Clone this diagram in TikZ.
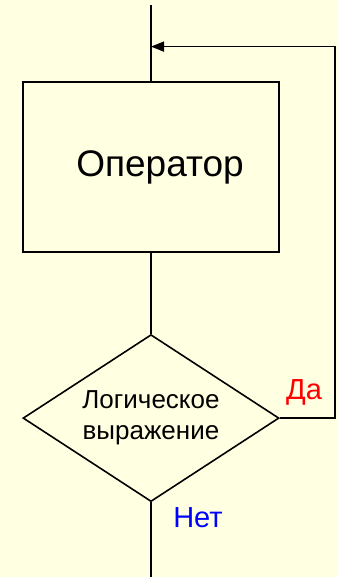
\documentclass[tikz,border=0pt]{standalone}
\usepackage{fontspec}
\setmainfont{Liberation Sans}
\usetikzlibrary{positioning,arrows.meta,shapes.geometric}
\definecolor{bgyellow}{HTML}{FFFFE1}

\begin{document}
\begin{tikzpicture}[
  line width=0.8pt,
  node distance=40.5pt,
  every node/.style={align=center},
  opbox/.style={draw, minimum width=128pt, minimum height=85pt, inner sep=0pt,
                font=\fontsize{18.5pt}{21pt}\selectfont},
  condbox/.style={draw, diamond, aspect=1.53, minimum width=128pt, minimum height=83.5pt,
                  inner sep=0pt, font=\fontsize{13pt}{15.5pt}\selectfont},
  arrow/.style={-{Triangle[length=6.5pt, width=5pt]}},
  answer/.style={font=\fontsize{14.5pt}{16pt}\selectfont, inner sep=0pt},
]
% background and page size
\fill[bgyellow] (0pt,0pt) rectangle (168.5pt,-288.5pt);
\useasboundingbox (0pt,0pt) rectangle (168.5pt,-288.5pt);

% ===== loop body =====
\coordinate (in) at (75.5pt,-2.5pt);
\node[opbox] (op) at (75.5pt,-83.5pt) {\raisebox{2pt}{\hspace{9pt}Оператор}};
\node[condbox, below=of op] (cond) {Логическое\\выражение};
\coordinate (out) at (75.5pt,-288.5pt);

\draw (in) -- (op.north);
\draw (op.south) -- (cond.north);
\draw (cond.south) -- (out);

% ===== back edge =====
\coordinate (join) at (75.5pt,-23.3pt);
\draw[arrow] (cond.east) -| (167.5pt,-23.3pt) -- (join);

\node[answer, text=red] (yes) at (152pt,-196pt) {Да};
\node[answer, text=blue] (no) at (99pt,-259pt) {Нет};
\end{tikzpicture}
\end{document}
